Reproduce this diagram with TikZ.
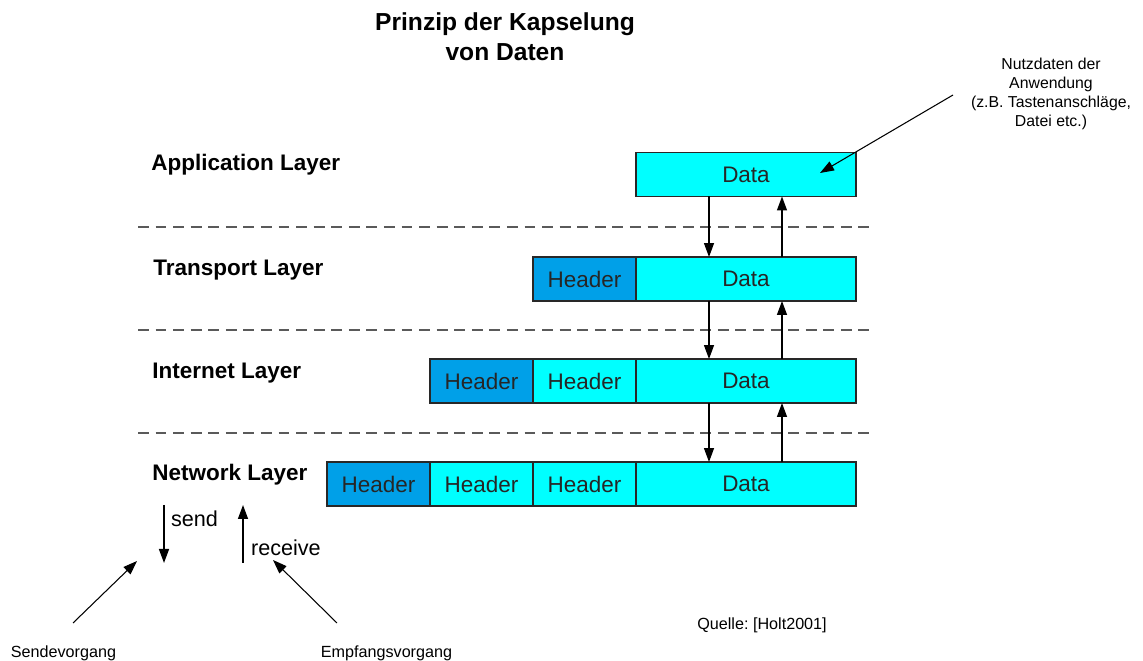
\documentclass[tikz,border=0pt]{standalone}
\usepackage{fontspec}
\setmainfont{Liberation Sans}
\usetikzlibrary{arrows.meta, positioning}

\definecolor{datacyan}{RGB}{0,255,255}
\definecolor{hdrblue}{RGB}{0,160,232}
\definecolor{boxline}{RGB}{40,40,40}
\definecolor{sepgray}{RGB}{90,90,90}

\begin{document}
\begin{tikzpicture}[x=0.02cm, y=-0.02cm, >={Triangle[length=2.8mm, width=2mm]},
  cell/.style={draw=boxline, line width=0.9pt, minimum height=0.88cm, inner sep=0pt, outer sep=0pt, text=black!85, font=\fontsize{12.8}{15}\selectfont},
  datacell/.style={cell, fill=datacyan, minimum width=4.4cm},
  hdrcell/.style={cell, fill=datacyan, minimum width=2.06cm},
  outerhdr/.style={cell, fill=hdrblue, minimum width=2.06cm},
  layer/.style={anchor=west, inner sep=0pt, font=\fontsize{12.8}{15}\selectfont\bfseries},
  note/.style={font=\fontsize{9.2}{10.8}\selectfont, align=center},
  sep/.style={sepgray, line width=1.4pt, dash pattern=on 6.2pt off 3.8pt}]
  \useasboundingbox (0,0) rectangle (1143,661);
  \node[align=center, font=\fontsize{14}{17}\selectfont\bfseries] (title) at (505,37) {Prinzip der Kapselung\\von Daten};

  % layers
  \node[layer] (lapp) at (151,165) {Application Layer};
  \node[layer] (ltra) at (153,270) {Transport Layer};
  \node[layer] (lint) at (152,373) {Internet Layer};
  \node[layer] (lnet) at (152,475) {Network Layer};
  \draw[sep] (138,227) -- (873,227);
  \draw[sep] (138,330) -- (873,330);
  \draw[sep] (138,433) -- (873,433);

  % packets
  \node[datacell] (data1) at (746,174.5) {Data};
  \node[datacell] (data2) at (746,279) {Data};
  \node[outerhdr, left=0pt of data2] (hdr2) {Header};
  \node[datacell] (data3) at (746,381) {Data};
  \node[hdrcell, left=0pt of data3] (hdr3a) {Header};
  \node[outerhdr, left=0pt of hdr3a] (hdr3b) {Header};
  \node[datacell] (data4) at (746,484) {Data};
  \node[hdrcell, left=0pt of data4] (hdr4a) {Header};
  \node[hdrcell, left=0pt of hdr4a] (hdr4b) {Header};
  \node[outerhdr, left=0pt of hdr4b] (hdr4c) {Header};

  \draw[->, line width=0.8pt] ([xshift=-7.4mm]data1.south) -- ([xshift=-7.4mm]data2.north);
  \draw[->, line width=0.8pt] ([xshift=-7.4mm]data2.south) -- ([xshift=-7.4mm]data3.north);
  \draw[->, line width=0.8pt] ([xshift=-7.4mm]data3.south) -- ([xshift=-7.4mm]data4.north);
  \draw[->, line width=0.8pt] ([xshift=7.2mm]data2.north) -- ([xshift=7.2mm]data1.south);
  \draw[->, line width=0.8pt] ([xshift=7.2mm]data3.north) -- ([xshift=7.2mm]data2.south);
  \draw[->, line width=0.8pt] ([xshift=7.2mm]data4.north) -- ([xshift=7.2mm]data3.south);

  % send / receive
  \coordinate (sendtop) at (164,505);
  \coordinate (sendbot) at (164,563);
  \coordinate (recvbot) at (243,563);
  \coordinate (recvtop) at (243,505);
  \draw[->, line width=0.8pt] (sendtop) -- (sendbot);
  \draw[->, line width=0.8pt] (recvbot) -- (recvtop);
  \node[anchor=west, inner sep=1pt, font=\fontsize{12.3}{14}\selectfont] (sendlbl) at (169,519) {send};
  \node[anchor=west, inner sep=1pt, font=\fontsize{12.3}{14}\selectfont] (recvlbl) at (249,548) {receive};

  \node[note] (sv) at (63.5,653) {Sendevorgang};
  \node[note] (ev) at (386.5,653) {Empfangsvorgang};
  \coordinate (svtail) at (73,623);
  \coordinate (svtip) at (137,561);
  \coordinate (evtail) at (337,623);
  \coordinate (evtip) at (273,560);
  \draw[->, line width=0.6pt] (svtail) -- (svtip);
  \draw[->, line width=0.6pt] (evtail) -- (evtip);

  % annotation
  \node[note, font=\fontsize{9}{10.8}\selectfont] (nutz) at (1051,94) {Nutzdaten der\\Anwendung\\(z.B. Tastenanschläge,\\Datei etc.)};
  \coordinate (nutztail) at (953,95);
  \coordinate (nutztip) at (820,173);
  \draw[->, line width=0.6pt] (nutztail) -- (nutztip);

  \node[anchor=west, inner sep=0pt, font=\fontsize{9.2}{11}\selectfont] (src) at (697,625) {Quelle:\ [Holt2001]};
\end{tikzpicture}
\end{document}
